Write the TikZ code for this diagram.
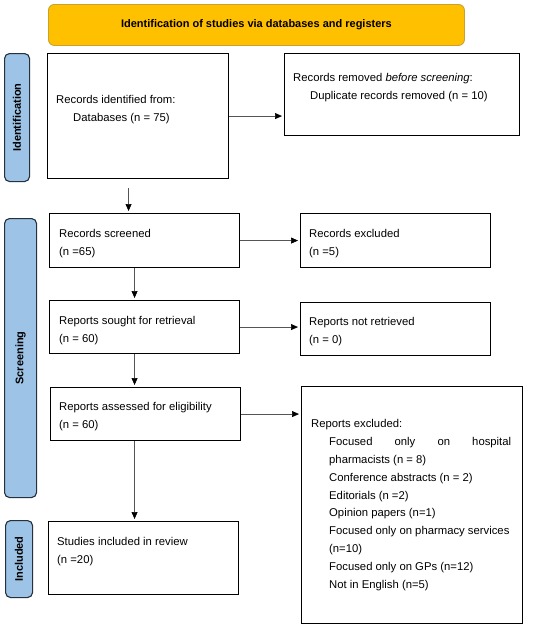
\documentclass[tikz,border=0pt]{standalone}
\usepackage{fontspec}
\setmainfont{Liberation Sans}
\usetikzlibrary{arrows.meta}
\definecolor{bannerfill}{HTML}{FFC000}
\definecolor{bannerdraw}{HTML}{C9A12B}
\definecolor{barfill}{HTML}{9DC3E6}
\definecolor{bardraw}{HTML}{25313D}
\definecolor{arrowgray}{HTML}{555555}
\begin{document}
\begin{tikzpicture}[x=1pt,y=-1pt,
  box/.style={draw=black, line width=1.1pt, inner sep=0pt, anchor=north west},
  banner/.style={draw=bannerdraw, fill=bannerfill, line width=0.9pt, rounded corners=6pt, inner sep=0pt, anchor=north west},
  bar/.style={draw=bardraw, fill=barfill, line width=1.1pt, rounded corners=5pt, inner sep=0pt, anchor=north west},
  txt/.style={anchor=base west, inner sep=0pt, align=left, font=\fontsize{11.3}{18}\selectfont},
  lbl/.style={font=\fontsize{11}{13}\selectfont\bfseries, rotate=90, inner sep=0pt},
  arr/.style={draw=arrowgray, line width=0.7pt, -{Triangle[length=7pt,width=6pt,black]}, shorten >=2pt}
]
\useasboundingbox (0,0) rectangle (550,627);

% banner and side bars
\node[banner, minimum width=416pt, minimum height=41pt] (banner) at (48,4) {};
\node[font=\fontsize{11}{13}\selectfont\bfseries, inner sep=0pt] (bannertext) at (banner.center) {Identification of studies via databases and registers};

\node[bar, minimum width=25pt, minimum height=128pt] (barid) at (4,53) {};
\node[lbl] (barid-t) at (barid.center) {Identification};
\node[bar, minimum width=32pt, minimum height=279pt] (barsc) at (4,218) {};
\node[lbl] (barsc-t) at (barsc.center) {Screening};
\node[bar, minimum width=27pt, minimum height=77pt] (barin) at (5,520) {};
\node[lbl] (barin-t) at (barin.center) {Included};

% main boxes
\node[box, minimum width=181pt, minimum height=125pt] (b1) at (47,53) {};
\node[box, minimum width=235pt, minimum height=82pt] (b2) at (284,53) {};
\node[box, minimum width=190pt, minimum height=54pt] (b3) at (49,213) {};
\node[box, minimum width=190pt, minimum height=53pt] (b4) at (49,300) {};
\node[box, minimum width=190pt, minimum height=53pt] (b5) at (50,387) {};
\node[box, minimum width=190pt, minimum height=73pt] (b6) at (48,521) {};
\node[box, minimum width=190pt, minimum height=54pt] (r1) at (300,213) {};
\node[box, minimum width=190pt, minimum height=53pt] (r2) at (300,302) {};
\node[box, minimum width=221pt, minimum height=237pt] (r3) at (301,386) {};

% texts (anchored at the baseline of their last line)
\node[txt] (t1) at (56,121) {Records identified from:\\\hspace*{17pt}Databases (n = 75)};
\node[txt] (t2) at (293,99) {Records removed \textit{before screening}:\\\hspace*{17pt}Duplicate records removed (n = 10)};
\node[txt] (t3) at (59,255) {Records screened\\(n =65)};
\node[txt] (t4) at (59,342) {Reports sought for retrieval\\(n = 60)};
\node[txt] (t5) at (59,428) {Reports assessed for eligibility\\(n = 60)};
\node[txt] (t6) at (57,563) {Studies included in review\\(n =20)};
\node[txt] (tr1) at (309,255) {Records excluded\\(n =5)};
\node[txt] (tr2) at (309,343) {Reports not retrieved\\(n = 0)};
\node[txt, font=\fontsize{11.3}{17.8}\selectfont] (tr3) at (311,588) {Reports excluded:\\
\hspace*{18pt}\makebox[182pt][s]{Focused\hfill only\hfill on\hfill hospital}\\
\hspace*{18pt}pharmacists (n = 8)\\
\hspace*{18pt}Conference abstracts (n = 2)\\
\hspace*{18pt}Editorials (n =2)\\
\hspace*{18pt}Opinion papers (n=1)\\
\hspace*{18pt}Focused only on pharmacy services\\
\hspace*{18pt}(n=10)\\
\hspace*{18pt}Focused only on GPs (n=12)\\
\hspace*{18pt}Not in English (n=5)};

% connectors
\draw[arr] (b1.east) -- (b1.east -| b2.west);
\draw[arr] ([xshift=-9.5pt,yshift=-9pt]b1.south) -- ([xshift=-9.5pt]b1.south |- b3.north);
\draw[arr] (b3.east) -- (b3.east -| r1.west);
\draw[arr] (b4.east) -- (b4.east -| r2.west);
\draw[arr] (b5.east) -- (b5.east -| r3.west);
\draw[arr] ([xshift=-10pt]b3.south) -- ([xshift=-10pt]b3.south |- b4.north);
\draw[arr] ([xshift=-10pt]b4.south) -- ([xshift=-10pt]b4.south |- b5.north);
\draw[arr] ([xshift=-11pt]b5.south) -- ([xshift=-11pt]b5.south |- b6.north);
\end{tikzpicture}
\end{document}
